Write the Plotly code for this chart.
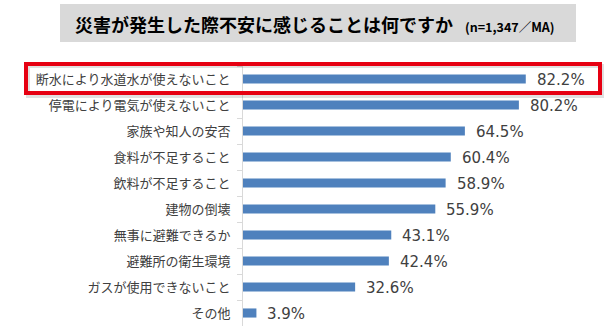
import plotly.graph_objects as go

categories = [
    "断水により水道水が使えないこと",
    "停電により電気が使えないこと",
    "家族や知人の安否",
    "食料が不足すること",
    "飲料が不足すること",
    "建物の倒壊",
    "無事に避難できるか",
    "避難所の衛生環境",
    "ガスが使用できないこと",
    "その他",
]
values = [82.2, 80.2, 64.5, 60.4, 58.9, 55.9, 43.1, 42.4, 32.6, 3.9]
title_main = "災害が発生した際不安に感じることは何ですか"
title_note = "(n=1,347／MA)"

W, H = 612, 330
ML, MR, MT, MB = 243, 25, 66, 4
PW, PH = W - ML - MR, H - MT - MB


def px(x):
    return (x - ML) / PW


def py(y):
    return (H - MB - y) / PH


JP = "Noto Sans CJK JP"
TXT = "#404040"

fig = go.Figure()
fig.add_trace(go.Bar(
    x=values, y=categories, orientation="h",
    marker=dict(color="#4f81bd", line=dict(width=0)),
    hoverinfo="skip",
))

annotations = []
for c, v in zip(categories, values):
    annotations.append(dict(
        x=v, y=c, xref="x", yref="y", text=f"{v:.1f}%", showarrow=False,
        xanchor="left", yanchor="middle", xshift=9, yshift=-1,
        font=dict(family="DejaVu Sans", size=15, color=TXT),
    ))
annotations.append(dict(
    x=px(73), y=py(24), xref="paper", yref="paper", text=f"<b>{title_main}</b>",
    showarrow=False, xanchor="left", yanchor="middle",
    font=dict(family=JP, size=18, color="#000000"),
))
annotations.append(dict(
    x=px(463), y=py(26), xref="paper", yref="paper", text=f"<b>{title_note}</b>",
    showarrow=False, xanchor="left", yanchor="middle",
    font=dict(family=JP, size=12.5, color="#000000"),
))

shapes = [
    dict(type="rect", xref="paper", yref="paper",
         x0=px(60), x1=px(576), y0=py(42), y1=py(4),
         fillcolor="#d9d9d9", line=dict(width=0), layer="below"),
    dict(type="rect", xref="paper", yref="paper",
         x0=px(28), x1=px(602), y0=py(96), y1=py(66),
         fillcolor="rgba(0,0,0,0)", line=dict(width=4, color="rgba(0,0,0,0.12)")),
    dict(type="rect", xref="paper", yref="paper",
         x0=px(26), x1=px(600), y0=py(93), y1=py(64),
         fillcolor="rgba(0,0,0,0)", line=dict(width=4, color="#e60012")),
]

fig.update_layout(
    width=W, height=H,
    margin=dict(l=ML, r=MR, t=MT, b=MB, pad=0),
    paper_bgcolor="white", plot_bgcolor="white",
    showlegend=False, bargap=0.65,
    annotations=annotations, shapes=shapes,
    xaxis=dict(range=[0, 100], visible=False, fixedrange=True),
    yaxis=dict(
        autorange="reversed", showline=True, linecolor="#d9d9d9", linewidth=1,
        ticks="outside", tickson="boundaries", ticklen=5, tickcolor="#d9d9d9",
        ticklabelstandoff=9, showgrid=False, zeroline=False,
        tickfont=dict(family=JP, size=13, color=TXT),
    ),
)

fig.write_html("out.html")
